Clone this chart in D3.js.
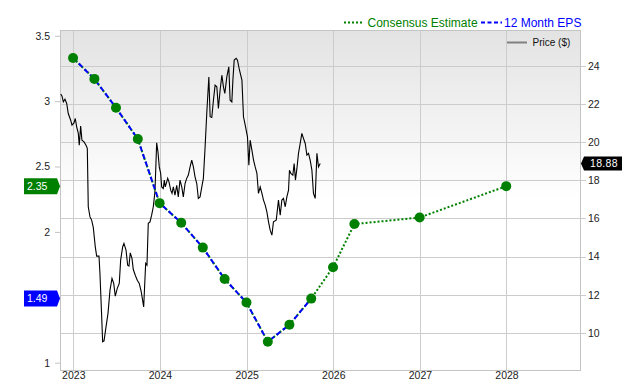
<!DOCTYPE html>
<html>
<head>
<meta charset="utf-8">
<script src="https://d3js.org/d3.v7.min.js"></script>
<style>
body { margin: 0; background: #fff; }
text { font-family: "Liberation Sans", Arial, Helvetica, sans-serif; }
</style>
</head>
<body>
<div id="chart-area"></div>
<script>
// 12 month EPS (actuals) and consensus estimates
var epsDates = ["2022-12-31", "2023-03-31", "2023-06-30", "2023-09-30", "2023-12-31", "2024-03-31",
    "2024-06-30", "2024-09-30", "2024-12-31", "2025-03-31", "2025-06-30", "2025-09-30"];
var epsValues = [3.33, 3.17, 2.95, 2.71, 2.22, 2.07, 1.88, 1.64, 1.46, 1.16, 1.29, 1.49];

var estDates = ["2025-12-31", "2026-03-31", "2026-12-31", "2027-12-31"];
var estValues = [1.73, 2.06, 2.11, 2.35];

// price, dates as decimal years
var priceYears = [2022.855, 2022.870, 2022.885, 2022.904, 2022.924, 2022.942, 2022.970, 2022.985, 2023.008, 2023.023,
    2023.039, 2023.058, 2023.069, 2023.085, 2023.100, 2023.124, 2023.147, 2023.162, 2023.173, 2023.193,
    2023.212, 2023.231, 2023.254, 2023.270, 2023.297, 2023.308, 2023.328, 2023.339, 2023.355, 2023.378,
    2023.401, 2023.424, 2023.447, 2023.467, 2023.485, 2023.508, 2023.531, 2023.547, 2023.570, 2023.585,
    2023.609, 2023.628, 2023.643, 2023.658, 2023.678, 2023.693, 2023.716, 2023.739, 2023.762, 2023.785,
    2023.813, 2023.836, 2023.851, 2023.866, 2023.886, 2023.905, 2023.924, 2023.943, 2023.963, 2023.978,
    2023.993, 2024.009, 2024.021, 2024.039, 2024.051, 2024.062, 2024.079, 2024.090, 2024.105, 2024.125,
    2024.140, 2024.155, 2024.174, 2024.194, 2024.212, 2024.232, 2024.252, 2024.270, 2024.290, 2024.309,
    2024.328, 2024.348, 2024.367, 2024.386, 2024.405, 2024.425, 2024.443, 2024.463, 2024.483, 2024.501,
    2024.521, 2024.540, 2024.564, 2024.579, 2024.598, 2024.617, 2024.636, 2024.656, 2024.674, 2024.694,
    2024.714, 2024.732, 2024.748, 2024.771, 2024.794, 2024.809, 2024.829, 2024.841, 2024.856, 2024.879,
    2024.894, 2024.917, 2024.945, 2024.963, 2024.983, 2025.009, 2025.025, 2025.040, 2025.060, 2025.079,
    2025.098, 2025.118, 2025.136, 2025.156, 2025.176, 2025.194, 2025.214, 2025.233, 2025.252, 2025.271,
    2025.291, 2025.309, 2025.341, 2025.367, 2025.387, 2025.406, 2025.425, 2025.445, 2025.464, 2025.483,
    2025.494, 2025.510, 2025.533, 2025.548, 2025.563, 2025.580, 2025.598, 2025.618, 2025.637, 2025.656,
    2025.676, 2025.695, 2025.714, 2025.733, 2025.753, 2025.771, 2025.791, 2025.811, 2025.829, 2025.849];
var priceValues = [22.52, 22.41, 22.11, 22.25, 22.03, 21.50, 21.15, 20.89, 21.01, 21.24,
    20.80, 20.46, 19.84, 20.84, 20.10, 20.01, 19.84, 19.67, 16.61, 16.08,
    15.91, 15.53, 14.51, 14.02, 14.02, 13.11, 10.84, 9.53, 9.58, 10.31,
    11.02, 12.24, 12.85, 12.59, 11.92, 12.33, 12.59, 13.81, 14.51, 14.69,
    14.34, 13.55, 13.50, 14.19, 13.90, 13.32, 13.02, 12.76, 12.59, 12.15,
    11.36, 13.64, 13.55, 15.74, 15.82, 16.17, 16.61, 17.39, 19.96, 19.49,
    18.70, 18.36, 17.65, 17.57, 18.01, 17.65, 17.92, 18.10, 17.92, 17.48,
    17.31, 17.65, 17.22, 17.74, 17.13, 18.01, 17.65, 17.13, 17.83, 18.10,
    18.27, 18.70, 19.06, 18.70, 18.18, 17.83, 17.05, 17.13, 17.65, 18.10,
    19.75, 21.50, 23.42, 21.33, 21.29, 22.20, 22.99, 22.90, 21.77, 22.73,
    23.51, 22.90, 22.55, 23.42, 23.95, 22.20, 22.11, 23.25, 24.30, 24.39,
    24.30, 23.77, 23.25, 21.33, 20.89, 20.28, 18.79, 20.10, 19.58, 19.06,
    18.70, 18.36, 17.31, 17.65, 17.31, 16.96, 16.70, 16.34, 15.82, 15.38,
    15.12, 15.82, 15.91, 16.96, 16.17, 16.96, 17.05, 16.61, 17.13, 17.48,
    18.53, 18.36, 18.27, 18.88, 18.01, 18.62, 19.41, 19.93, 20.46, 20.19,
    19.93, 19.32, 19.41, 19.06, 18.53, 17.31, 17.05, 19.41, 18.70, 18.88];

var epsTicks = [1, 1.5, 2, 2.5, 3, 3.5];
var priceTicks = [10, 12, 14, 16, 18, 20, 22, 24];
var lastPrice = 18.88;
var lastEps = 1.49;
var lastEstimate = 2.35;

var margin = {top: 30, right: 60, bottom: 10, left: 60};
var width = 520;
var height = 340;

var parseDate = d3.timeParse("%Y-%m-%d");
function yearToDate(y) {
    var yr = Math.floor(y);
    var start = new Date(yr, 0, 1), end = new Date(yr + 1, 0, 1);
    return new Date(+start + (y - yr) * (end - start));
}

var eps = epsDates.map((d, i) => ({date: parseDate(d), value: epsValues[i]}));
var est = estDates.map((d, i) => ({date: parseDate(d), value: estValues[i]}));
var consensus = eps.concat(est);
var price = priceYears.map((d, i) => ({date: yearToDate(d), value: priceValues[i]}))
    .filter((d) => d.value != null);

var svg = d3.select("#chart-area")
    .append("svg")
        .attr("width", 640)
        .attr("height", 380);

var defs = svg.append("defs");
var grad = defs.append("linearGradient")
    .attr("id", "bg")
    .attr("x1", 0).attr("y1", 0).attr("x2", 0).attr("y2", 1);
grad.append("stop").attr("offset", "0%").attr("stop-color", "#e3e3e3");
grad.append("stop").attr("offset", "50%").attr("stop-color", "#ffffff");
grad.append("stop").attr("offset", "100%").attr("stop-color", "#ffffff");

defs.append("clipPath").attr("id", "plot-clip")
    .append("rect").attr("width", width).attr("height", height);

var g = svg.append("g")
    .attr("transform", "translate(" + margin.left + ", " + margin.top + ")");

var x = d3.scaleTime()
    .domain([new Date(2022, 10, 6), new Date(2028, 10, 6)])
    .range([0, width]);

var yEps = d3.scaleLinear()
    .domain([0.944, 3.544])
    .range([height, 0]);

var yPrice = d3.scaleLinear()
    .domain([8.05, 25.88])
    .range([height, 0]);

g.append("rect")
    .attr("width", width)
    .attr("height", height)
    .attr("fill", "url(#bg)");

// grid
g.append("g")
    .selectAll("line")
    .data(priceTicks)
    .enter().append("line")
        .attr("x1", 0)
        .attr("x2", width + 6)
        .attr("y1", (d) => Math.round(yPrice(d)) + 0.5)
        .attr("y2", (d) => Math.round(yPrice(d)) + 0.5)
        .attr("stroke", "#cccccc");

var years = x.ticks(d3.timeYear.every(1));
g.append("g")
    .selectAll("line")
    .data(years)
    .enter().append("line")
        .attr("x1", (d) => Math.round(x(d)) + 0.5)
        .attr("x2", (d) => Math.round(x(d)) + 0.5)
        .attr("y1", 0)
        .attr("y2", height)
        .attr("stroke", "#cccccc");

g.append("rect")
    .attr("x", 0.5)
    .attr("y", 0.5)
    .attr("width", width)
    .attr("height", height)
    .attr("fill", "none")
    .attr("stroke", "#c4c4c4");

// axes (the 1.5 label sits under the EPS flag, so it is left blank)
var leftAxis = d3.axisLeft(yEps).tickValues(epsTicks).tickSize(5).tickPadding(5)
    .tickFormat((d) => d === 1.5 ? "" : d3.format("")(d));
var gl = g.append("g").attr("class", "left axis").call(leftAxis);

var rightAxis = d3.axisRight(yPrice).tickValues(priceTicks).tickSize(0).tickPadding(8);
var gr = g.append("g")
    .attr("class", "right axis")
    .attr("transform", "translate(" + width + ", 0)")
    .call(rightAxis);

var bottomAxis = d3.axisBottom(x).ticks(d3.timeYear.every(1)).tickSize(0).tickPadding(1.5)
    .tickFormat(d3.timeFormat("%Y"));
var gb = g.append("g")
    .attr("class", "x axis")
    .attr("transform", "translate(0, " + height + ")")
    .call(bottomAxis);

[gl, gr, gb].forEach((a) => {
    a.select(".domain").remove();
    a.selectAll("line").attr("stroke", "#c4c4c4");
    a.selectAll("text")
        .attr("fill", "#222")
        .attr("font-size", "10.5px")
        .attr("font-family", "'Liberation Sans', Arial, sans-serif");
});

// series
var plot = g.append("g").attr("clip-path", "url(#plot-clip)");

var line = d3.line()
    .x((d) => x(d.date));

plot.append("path")
    .datum(price)
    .attr("fill", "none")
    .attr("stroke", "#000")
    .attr("stroke-width", 1.1)
    .attr("d", line.y((d) => yPrice(d.value)));

plot.append("path")
    .datum(consensus)
    .attr("fill", "none")
    .attr("stroke", "#008000")
    .attr("stroke-width", 2)
    .attr("stroke-dasharray", "2,2")
    .attr("d", line.y((d) => yEps(d.value)));

plot.append("path")
    .datum(eps)
    .attr("fill", "none")
    .attr("stroke", "#0000ff")
    .attr("stroke-width", 2)
    .attr("stroke-dasharray", "5,3")
    .attr("d", line.y((d) => yEps(d.value)));

plot.selectAll("circle")
    .data(consensus)
    .enter().append("circle")
        .attr("cx", (d) => x(d.date))
        .attr("cy", (d) => yEps(d.value))
        .attr("r", 5)
        .attr("fill", "#008000");

// value flags
function leftFlag(value, color) {
    var f = g.append("g").attr("transform", "translate(0, " + yEps(value) + ")");
    f.append("path")
        .attr("d", "M-36,-8H-3L0,0L-3,8H-36Z")
        .attr("fill", color);
    f.append("text")
        .attr("x", -33)
        .attr("dy", "0.35em")
        .attr("fill", "#fff")
        .attr("font-size", "10.5px")
        .text(value.toFixed(2));
}
leftFlag(lastEstimate, "#008000");
leftFlag(lastEps, "#0000ff");

var pf = g.append("g").attr("transform", "translate(" + width + ", " + yPrice(lastPrice) + ")");
pf.append("path")
    .attr("d", "M1,0L4,-7H42V7H4Z")
    .attr("fill", "#000");
pf.append("text")
    .attr("x", 10)
    .attr("dy", "0.35em")
    .attr("fill", "#fff")
    .attr("font-size", "10.5px")
    .attr("letter-spacing", "0.3px")
    .text(lastPrice.toFixed(2));

// legend
svg.append("line")
    .attr("x1", 344).attr("x2", 362).attr("y1", 22.5).attr("y2", 22.5)
    .attr("stroke", "#008000").attr("stroke-width", 2).attr("stroke-dasharray", "2,2");
svg.append("text")
    .attr("x", 367.5).attr("y", 27)
    .attr("font-size", "12px").attr("fill", "#008000")
    .text("Consensus Estimate");
svg.append("line")
    .attr("x1", 481).attr("x2", 502).attr("y1", 22.5).attr("y2", 22.5)
    .attr("stroke", "#0000ff").attr("stroke-width", 2).attr("stroke-dasharray", "4,2.5");
svg.append("text")
    .attr("x", 504).attr("y", 27)
    .attr("font-size", "12px").attr("fill", "#0000ff")
    .text("12 Month EPS");
svg.append("line")
    .attr("x1", 507).attr("x2", 527).attr("y1", 42.5).attr("y2", 42.5)
    .attr("stroke", "#808080").attr("stroke-width", 2);
svg.append("text")
    .attr("x", 532.5).attr("y", 46)
    .attr("font-size", "10px").attr("fill", "#111")
    .text("Price ($)");
</script>
</body>
</html>
